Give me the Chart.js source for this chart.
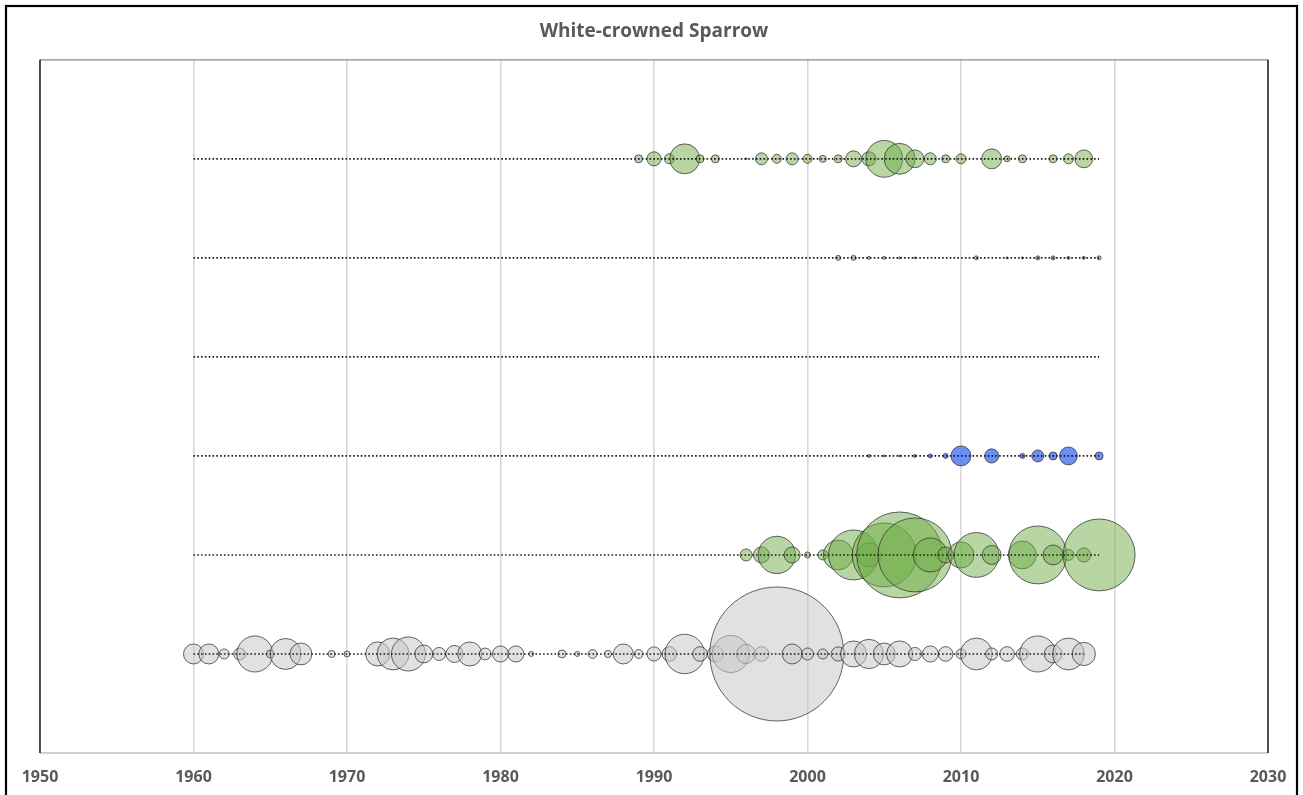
<!DOCTYPE html>
<html>
<head>
<meta charset="utf-8">
<script src="https://cdn.jsdelivr.net/npm/chart.js@4/dist/chart.umd.min.js"></script>
<style>
html,body{margin:0;padding:0;background:#fff;}
#wrap{width:1303px;height:795px;position:relative;}
</style>
</head>
<body>
<div id="wrap"><canvas id="c" width="1303" height="795"></canvas></div>
<script>
// ---- data ----
const chartTitle = 'White-crowned Sparrow';
const xTicks = [1950, 1960, 1970, 1980, 1990, 2000, 2010, 2020, 2030];

// row positions (y) of each series, bottom to top
const rowLevels = [1, 2, 3, 4, 5, 6];
const lineStart = [1960, 1960, 1960, 1960, 1960, 1960];
const lineEnd   = [2018, 2019, 2019, 2019, 2019, 2019];

// row 1 (grey)
const greyYears  = [1960,1961,1962,1963,1964,1965,1966,1967,1969,1970,1972,1973,1974,1975,1976,1977,1978,1979,1980,1981,1982,1984,1985,1986,1987,1988,1989,1990,1991,1992,1993,1994,1995,1996,1997,1998,1999,2000,2001,2002,2003,2004,2005,2006,2007,2008,2009,2010,2011,2012,2013,2014,2015,2016,2017,2018];
const greyCounts = [20,20,5,7,65,3,48,24,2.5,1.8,29,51,58,16,8.5,14.5,29,7,13,13,1.25,3.2,1.25,3.9,2.6,20,3.9,10,10.7,78,10.7,13,69,18,10.7,900,20,7.2,5,10,34,43,24,34,8.5,13,10.7,5,51,7.2,10.7,7.2,65,16,51,27];

// row 2 (green)
const green2Years  = [1996,1997,1998,1999,2000,2001,2002,2003,2004,2005,2006,2007,2008,2009,2010,2011,2012,2014,2015,2016,2017,2018,2019];
const green2Counts = [7.2,12.8,70,12.8,1.8,5,45,125,29,205,370,274,58,12.8,34,101,18,39,168,20,6,10,259];

// row 3 (blue)
const blueYears  = [2004,2005,2006,2007,2008,2009,2010,2012,2014,2015,2016,2017,2019];
const blueCounts = [0.45,0.2,0.2,0.45,0.8,1.25,20,10,1.25,7.2,3.2,16,3.2];

// row 4 (empty)
const row4Years  = [];
const row4Counts = [];

// row 5 (tan)
const tanYears  = [2002,2003,2004,2005,2006,2007,2011,2013,2014,2015,2016,2017,2018,2019];
const tanCounts = [1.25,1.25,0.45,0.45,0.2,0.2,0.8,0.2,0.2,0.8,0.8,0.45,0.45,0.8];

// row 6 (green)
const green6Years  = [1989,1990,1991,1992,1993,1994,1996,1997,1998,1999,2000,2001,2002,2003,2004,2005,2006,2007,2008,2009,2010,2012,2013,2014,2016,2017,2018];
const green6Counts = [3.2,10,5,45,3.2,3.2,0.2,7.2,4,7.2,4,2.5,3.2,12.8,10,68,48,16,7.2,3.2,5,20,1.8,3.2,3.2,5,16];

// ---- build chart ----
const RADIUS_K = 2.233; // radius (px) per sqrt(count)
function bubbles(years, counts, level) {
  return years.map((yr, i) => ({x: yr, y: level, r: Math.sqrt(counts[i]) * RADIUS_K}));
}
const rows = [
  {years: greyYears,   counts: greyCounts,   fill: 'rgba(200,200,200,0.55)'},
  {years: green2Years, counts: green2Counts, fill: 'rgba(112,173,71,0.5)'},
  {years: blueYears,   counts: blueCounts,   fill: 'rgba(70,115,240,0.8)'},
  {years: row4Years,   counts: row4Counts,   fill: 'rgba(150,150,150,0.5)'},
  {years: tanYears,    counts: tanCounts,    fill: 'rgba(205,145,105,0.6)'},
  {years: green6Years, counts: green6Counts, fill: 'rgba(112,173,71,0.5)'}
];

const datasets = [];
rows.forEach((row, k) => {
  datasets.push({
    type: 'bubble',
    data: bubbles(row.years, row.counts, rowLevels[k]),
    backgroundColor: row.fill,
    borderColor: 'rgba(50,50,50,0.75)',
    borderWidth: 1,
    order: 2
  });
});
rows.forEach((row, k) => {
  datasets.push({
    type: 'line',
    data: [{x: lineStart[k], y: rowLevels[k]}, {x: lineEnd[k], y: rowLevels[k]}],
    borderColor: '#1a1a1a',
    borderWidth: 1.6,
    borderDash: [1.6, 2.2],
    pointRadius: 0,
    fill: false,
    order: 1
  });
});

const framePlugin = {
  id: 'frame',
  beforeDraw(chart) {
    const ctx = chart.ctx;
    ctx.save();
    ctx.fillStyle = '#fff';
    ctx.fillRect(0, 0, chart.width, chart.height);
    ctx.restore();
  },
  afterDraw(chart) {
    const ctx = chart.ctx;
    const a = chart.chartArea;
    ctx.save();
    // outer border
    ctx.strokeStyle = '#000';
    ctx.lineWidth = 2.2;
    ctx.strokeRect(6, 6, 1291, 800);
    // plot area border
    ctx.lineWidth = 1.3;
    ctx.strokeStyle = '#8a8a8a';
    ctx.beginPath(); ctx.moveTo(a.left, a.top); ctx.lineTo(a.right, a.top); ctx.stroke();
    ctx.strokeStyle = '#c0c0c0';
    ctx.beginPath(); ctx.moveTo(a.left, a.bottom); ctx.lineTo(a.right, a.bottom); ctx.stroke();
    ctx.strokeStyle = '#000';
    ctx.beginPath(); ctx.moveTo(a.left, a.top); ctx.lineTo(a.left, a.bottom); ctx.stroke();
    ctx.beginPath(); ctx.moveTo(a.right, a.top); ctx.lineTo(a.right, a.bottom); ctx.stroke();
    ctx.restore();
  }
};

new Chart(document.getElementById('c'), {
  data: {datasets},
  options: {
    responsive: false,
    animation: false,
    events: [],
    layout: {autoPadding: false, padding: {left: 40, right: 35, top: 0, bottom: 8}},
    plugins: {
      legend: {display: false},
      tooltip: {enabled: false},
      title: {
        display: true,
        text: chartTitle,
        color: '#595959',
        font: {family: 'Open Sans', size: 19, weight: 'bold'},
        padding: {top: 20, bottom: 17}
      }
    },
    scales: {
      x: {
        type: 'linear',
        min: xTicks[0],
        max: xTicks[xTicks.length - 1],
        afterBuildTicks(scale) { scale.ticks = xTicks.map(v => ({value: v})); },
        afterFit(scale) { scale.height = 34; },
        grid: {color: '#d9d9d9', lineWidth: 1.6, drawTicks: false},
        border: {display: false},
        ticks: {
          color: '#595959',
          font: {family: 'Open Sans', size: 16, weight: 'bold'},
          padding: 15,
          maxRotation: 0,
          callback: v => String(v)
        }
      },
      y: {
        type: 'linear',
        min: 0,
        max: 7,
        display: false
      }
    }
  },
  plugins: [framePlugin]
});
</script>
</body>
</html>
